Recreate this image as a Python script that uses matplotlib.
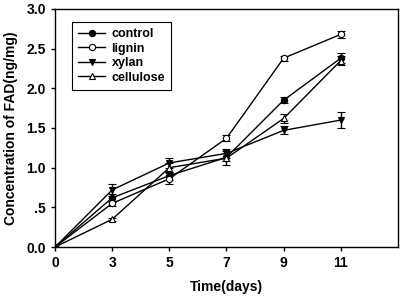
import numpy as np
import matplotlib
matplotlib.use("Agg")
from matplotlib import pyplot as plt
from matplotlib.lines import Line2D

plt.rcParams['font.family'] = ['Liberation Sans', 'DejaVu Sans']
plt.rcParams['font.weight'] = 'bold'

days = ["0", "3", "5", "7", "9", "11"]
control = [0, 0.62, 0.90, 1.13, 1.85, 2.38]
control_err = [0, 0.05, 0.05, 0.05, 0.04, 0.06]
lignin = [0, 0.55, 0.86, 1.37, 2.38, 2.68]
lignin_err = [0, 0.03, 0.07, 0.04, 0.03, 0.04]
xylan = [0, 0.72, 1.06, 1.18, 1.47, 1.60]
xylan_err = [0, 0.08, 0.06, 0.06, 0.05, 0.10]
cellulose = [0, 0.35, 1.00, 1.12, 1.62, 2.35]
cellulose_err = [0, 0.02, 0.06, 0.09, 0.06, 0.06]
yticks = [0, 0.5, 1.0, 1.5, 2.0, 2.5, 3.0]
ytick_labels = ["0.0", ".5", "1.0", "1.5", "2.0", "2.5", "3.0"]

x = np.arange(len(days))
fig = plt.figure(figsize=(4.03, 2.98), dpi=100)
ax = fig.add_axes([0.1365, 0.171, 0.851, 0.799])

series = [
    ("control", control, control_err, dict(marker='o', mfc='black')),
    ("lignin", lignin, lignin_err, dict(marker='o', mfc='white')),
    ("xylan", xylan, xylan_err, dict(marker='v', mfc='black')),
    ("cellulose", cellulose, cellulose_err, dict(marker='^', mfc='white')),
]
handles = []
for name, y, e, st in series:
    ax.errorbar(x, y, yerr=e, color='black', lw=1, ms=4.5, mec='black', mew=0.8,
                capsize=3, elinewidth=1, capthick=1, **st)
    handles.append(Line2D([], [], color='black', lw=1, ms=4.5, mec='black',
                          mew=0.8, label=name, **st))

ax.set_xlim(0, 6)
ax.set_ylim(0, 3)
ax.set_xticks(x)
ax.set_xticklabels(days)
ax.set_yticks(yticks)
ax.set_yticklabels(ytick_labels)
ax.tick_params(direction='out', length=3, width=1, labelsize=10)
for s in ax.spines.values():
    s.set_linewidth(1)
ax.set_xlabel("Time(days)", fontsize=10, fontweight='bold', labelpad=7)
ax.set_ylabel("Concentration of FAD(ng/mg)", fontsize=10, fontweight='bold', labelpad=6)

leg = ax.legend(handles=handles, loc='upper left', bbox_to_anchor=(0.05, 0.946),
                fancybox=False, edgecolor='black', framealpha=1, fontsize=9,
                handlelength=2.15, handletextpad=0.5, borderpad=0.5,
                labelspacing=0.2, borderaxespad=0)
leg.get_frame().set_linewidth(0.8)

plt.savefig("out.png", dpi=100)
